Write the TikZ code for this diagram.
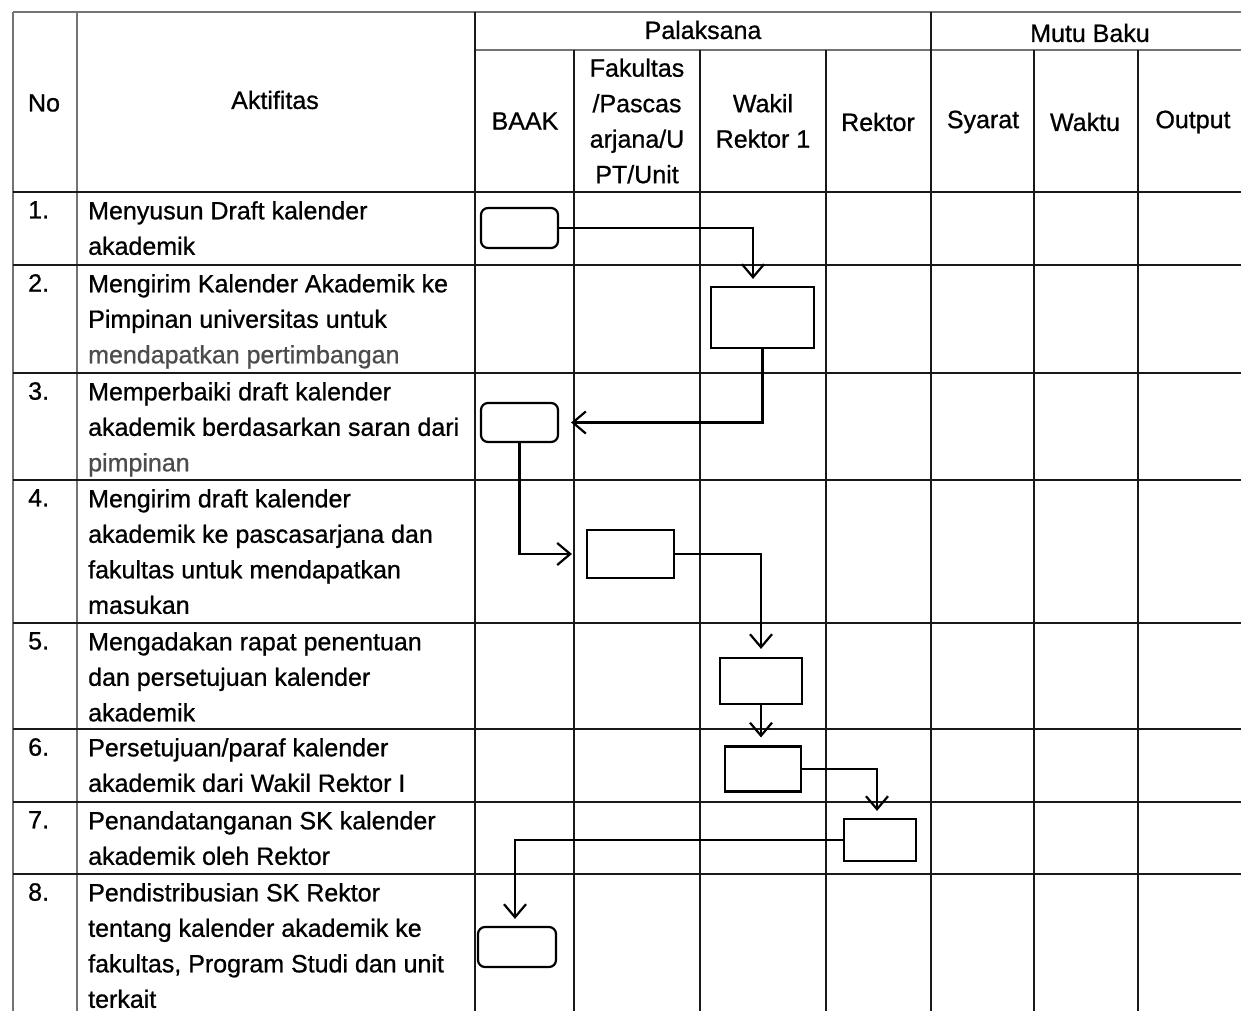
\documentclass[tikz,border=0pt]{standalone}
\usepackage{fontspec}
\setmainfont{Liberation Sans}[FakeBold=0.8]
\usetikzlibrary{calc,arrows.meta}

\begin{document}
\begin{tikzpicture}[x=1pt,y=-1pt,
                    grey rule/.style={line width=1.4pt,black!55},
                    dark rule/.style={line width=2.2pt,black!90},
                    txt/.style={font=\fontsize{25}{35.5}\selectfont,inner sep=0pt},
                    cell/.style={txt,anchor=north west,align=left},
                    head/.style={txt,align=center},
                    box/.style={draw,line width=2.2pt,inner sep=0pt},
                    rbox/.style={box,rounded corners=7pt},
                    flow/.style={line width=2.2pt,-{Straight Barb[length=13pt,width=22pt]}}]

\useasboundingbox (0,0) rectangle (1241,1011);

% table rules
\draw [grey rule] (13,12) -- (1241,12);
\draw [grey rule] (475,50) -- (1241,50);
\foreach \x in {13,77}
{
\draw [grey rule] (\x,12) -- (\x,1011);
}
\foreach \x in {475,931}
{
\draw [dark rule] (\x,12) -- (\x,1011);
}
\foreach \x in {574,700,826,1034,1138}
{
\draw [dark rule] (\x,50) -- (\x,1011);
}
\foreach \y in {192,265,373,480,623,729,802,874}
{
\draw [dark rule] (13,\y) -- (1241,\y);
}

% header
\node [head] (hno) at (44,103) {No};
\node [head] (hakt) at (275,100) {Aktifitas};
\node [head] (hpel) at (703,30) {Palaksana};
\node [head] (hmutu) at (1090,33) {Mutu Baku};
\node [head] (hbaak) at (525,121) {BAAK};
\node [head] (hfak) at (637,121) {Fakultas\\/Pascas\\arjana/U\\PT/Unit};
\node [head] (hwr) at (763,121) {Wakil\\Rektor 1};
\node [head] (hrek) at (878,122) {Rektor};
\node [head] (hsya) at (983,122) {Syarat};
\node [head] (hwak) at (1085,122) {Waktu};
\node [head] (hout) at (1193,122) {Output};

% nomor
\node [cell] (n1) at (28,201) {1.};
\node [cell] (n2) at (28,274) {2.};
\node [cell] (n3) at (28,382) {3.};
\node [cell] (n4) at (28,489) {4.};
\node [cell] (n5) at (28,632) {5.};
\node [cell] (n6) at (28,738) {6.};
\node [cell] (n7) at (28,811) {7.};
\node [cell] (n8) at (28,883) {8.};

% aktifitas
\node [cell] (a1) at (88,201) {Menyusun Draft kalender\\akademik};
\node [cell] (a2) at (88,274) {Mengirim Kalender Akademik ke\\Pimpinan universitas untuk\\\textcolor{black!70}{mendapatkan pertimbangan}};
\node [cell] (a3) at (88,382) {Memperbaiki draft kalender\\akademik berdasarkan saran dari\\\textcolor{black!70}{pimpinan}};
\node [cell] (a4) at (88,489) {Mengirim draft kalender\\akademik ke pascasarjana dan\\fakultas untuk mendapatkan\\masukan};
\node [cell] (a5) at (88,632) {Mengadakan rapat penentuan\\dan persetujuan kalender\\akademik};
\node [cell] (a6) at (88,738) {Persetujuan/paraf kalender\\akademik dari Wakil Rektor I};
\node [cell] (a7) at (88,811) {Penandatanganan SK kalender\\akademik oleh Rektor};
\node [cell] (a8) at (88,883) {Pendistribusian SK Rektor\\tentang kalender akademik ke\\fakultas, Program Studi dan unit\\terkait};

% langkah
\node [rbox,minimum width=77pt,minimum height=40pt] (b1) at (519.5,228) {};
\node [box,minimum width=103pt,minimum height=61pt] (b2) at (762.5,317.5) {};
\node [rbox,minimum width=77pt,minimum height=39pt] (b3) at (519.5,422.5) {};
\node [box,minimum width=87pt,minimum height=48pt] (b4) at (630.5,554) {};
\node [box,minimum width=82pt,minimum height=46pt] (b5) at (761,681) {};
\node [box,minimum width=76pt,minimum height=45pt] (b6) at (763,769) {};
\node [box,minimum width=72pt,minimum height=42pt] (b7) at (880,840) {};
\node [rbox,minimum width=78pt,minimum height=40pt] (b8) at (517,947) {};

\draw [flow,shorten >=7pt] (b1.east) -| ([xshift=-9.5pt]b2.north);
\draw [flow,shorten >=12pt] (b2.south) |- (b3.east);
\draw [flow,shorten >=14pt] (b3.south) |- (b4.west);
\draw [flow,shorten >=8pt] (b4.east) -| (b5.north);
\draw [flow,shorten >=8pt] (b5.south) -- (b5.south |- b6.north);
\draw [flow,shorten >=7pt] (b6.east) -| ([xshift=-3pt]b7.north);
\draw [flow,shorten >=7pt] (b7.west) -| ([xshift=-2pt]b8.north);

\end{tikzpicture}
\end{document}
